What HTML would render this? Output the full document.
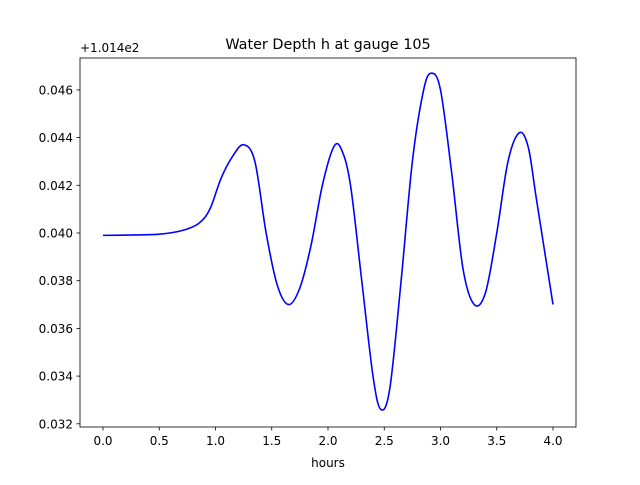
<!DOCTYPE html>
<html><head><meta charset="utf-8"><style>
body{margin:0;background:#fff;font-family:"Liberation Sans","DejaVu Sans",sans-serif;}
svg text{font-family:"DejaVu Sans","Liberation Sans",sans-serif;}
</style></head><body>
<svg id="chart" width="640" height="480" xmlns="http://www.w3.org/2000/svg">
<rect width="640" height="480" fill="#fff"/>
<text x="328" y="49" font-size="14.4" text-anchor="middle">Water Depth h at gauge 105</text>
<text x="80" y="52" font-size="12">+1.014e2</text>
<text x="328" y="467" font-size="12" text-anchor="middle">hours</text>
<g id="axes"></g>
<path id="line" fill="none" stroke="#0000ff" stroke-width="1.6"/>
<rect x="80" y="58" width="496" height="369" fill="none" stroke="#000" stroke-width="0.8"/>
</svg>
<script>
const times=[0,0.3,0.5,0.7,0.85,0.95,1.05,1.15,1.25,1.35,1.45,1.55,1.65,1.75,1.85,1.95,2.05,2.12,2.2,2.3,2.4,2.47,2.55,2.65,2.75,2.85,2.92,3.0,3.1,3.2,3.3,3.4,3.5,3.6,3.7,3.78,3.85,3.95,4.0];
const depths=[0.0399,0.03992,0.03995,0.0401,0.0404,0.0410,0.0423,0.0432,0.0437,0.0430,0.0400,0.0378,0.0370,0.0377,0.0395,0.0420,0.0436,0.0435,0.0420,0.0380,0.0340,0.0326,0.0335,0.0380,0.0430,0.0460,0.0467,0.0460,0.0425,0.0385,0.0370,0.0375,0.0400,0.0430,0.0442,0.0436,0.0415,0.0385,0.0370];
const xTicks=[0,0.5,1,1.5,2,2.5,3,3.5,4];
const xTickLabels=["0.0","0.5","1.0","1.5","2.0","2.5","3.0","3.5","4.0"];
const yTicks=[0.032,0.034,0.036,0.038,0.040,0.042,0.044,0.046];
const yTickLabels=["0.032","0.034","0.036","0.038","0.040","0.042","0.044","0.046"];
const X=t=>103+t*112.5;
const Y=v=>233-(v-0.040)/0.002*47.7;
const NS="http://www.w3.org/2000/svg";
const g=document.getElementById('axes');
function mk(tag,attrs){const e=document.createElementNS(NS,tag);for(const k in attrs)e.setAttribute(k,attrs[k]);g.appendChild(e);return e;}
xTicks.forEach((t,i)=>{
 const l=mk('line',{x1:X(t),x2:X(t),y1:427,y2:430.5,stroke:'#000','stroke-width':0.8});
 
 
 const tx=mk('text',{x:X(t),y:445,'font-size':12,'text-anchor':'middle'});
 tx.textContent=xTickLabels[i];
 
 
});
yTicks.forEach((v,i)=>{
 const l=mk('line',{x1:76.5,x2:80,y1:Y(v),y2:Y(v),stroke:'#000','stroke-width':0.8});
 
 
 const tx=mk('text',{x:73,y:Y(v)+4.5,'font-size':12,'text-anchor':'end'});
 tx.textContent=yTickLabels[i];
 
 
});
const pts=times.map((t,i)=>[X(t),Y(depths[i])]);
let d='M'+pts[0][0]+','+pts[0][1];
for(let i=0;i<pts.length-1;i++){
 const p0=pts[Math.max(0,i-1)],p1=pts[i],p2=pts[i+1],p3=pts[Math.min(pts.length-1,i+2)];
 const c1=[p1[0]+(p2[0]-p0[0])/6,p1[1]+(p2[1]-p0[1])/6];
 const c2=[p2[0]-(p3[0]-p1[0])/6,p2[1]-(p3[1]-p1[1])/6];
 d+=` C${c1[0]},${c1[1]} ${c2[0]},${c2[1]} ${p2[0]},${p2[1]}`;
}
document.getElementById('line').setAttribute('d',d);
</script>
</body></html>
